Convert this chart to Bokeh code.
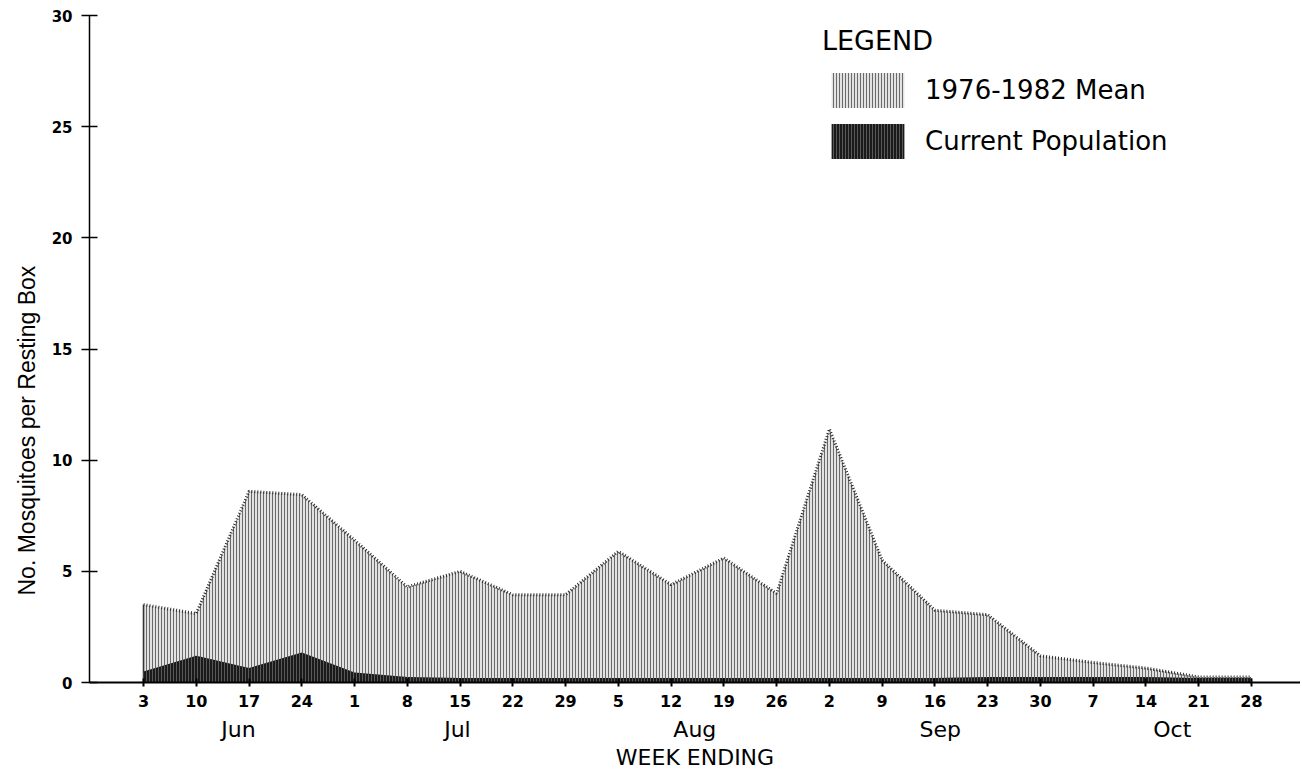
from bokeh.plotting import figure
from bokeh.models import (Range1d, FixedTicker, LinearAxis, Legend, LegendItem, Title,
                          ColumnDataSource)
from bokeh.embed import file_html
from bokeh.resources import INLINE

# ---------------- data ----------------
week_labels = ["3", "10", "17", "24", "1", "8", "15", "22", "29", "5", "12",
               "19", "26", "2", "9", "16", "23", "30", "7", "14", "21", "28"]
mean_1976_1982 = [3.5, 3.1, 8.6, 8.45, 6.4, 4.3, 5.0, 3.95, 3.95, 5.9, 4.4,
                  5.6, 4.0, 11.4, 5.5, 3.25, 3.05, 1.2, 0.9, 0.65, 0.25, 0.25]
current_population = [0.5, 1.2, 0.65, 1.35, 0.45, 0.25, 0.2, 0.2, 0.2, 0.2, 0.2,
                      0.2, 0.2, 0.2, 0.2, 0.2, 0.25, 0.25, 0.25, 0.25, 0.2, 0.2]
month_labels = ["Jun", "Jul", "Aug", "Sep", "Oct"]
month_pos = [1.8, 5.95, 10.45, 15.1, 19.5]
y_ticks = [0, 5, 10, 15, 20, 25, 30]

week_idx = list(range(len(week_labels)))
src = ColumnDataSource(dict(x=week_idx, mean=mean_1976_1982, cur=current_population,
                            zero=[0] * len(week_idx)))

TICK_FONT = "DejaVu Sans"
TEXT_FONT = "DejaVu Sans"

p = figure(frame_width=1211, frame_height=667, output_backend="svg",
           toolbar_location=None, x_range=Range1d(-1.024, 21.93),
           y_range=Range1d(0, 30), x_axis_type=None, y_axis_type=None,
           min_border_left=89, min_border_right=0, min_border_top=15,
           min_border_bottom=0)
p.title.visible = False
p.grid.visible = False
p.outline_line_color = None
p.background_fill_color = "white"

# mean area (stippled light grey)
mean_r = p.varea(x="x", y1="zero", y2="mean", source=src, fill_color="#e2e2e2",
                 hatch_pattern="vertical_line", hatch_color="#6a6a6a",
                 hatch_scale=3, hatch_weight=1)
p.line(x="x", y="mean", source=src, line_color="#2a2a2a", line_width=3,
       line_dash="1 2")
p.segment(x0=week_idx[0], y0=0, x1=week_idx[0], y1=mean_1976_1982[0],
          line_color="#333333", line_width=1.6)

# current population (dark)
cur_r = p.varea(x="x", y1="zero", y2="cur", source=src, fill_color="#1a1a1a",
                hatch_pattern="vertical_line", hatch_color="#6a6a6a",
                hatch_scale=3, hatch_weight=0.8)

# ---------------- axes ----------------
yax = LinearAxis(ticker=FixedTicker(ticks=y_ticks))
yax.axis_line_width = 1.5
yax.major_tick_in = 8
yax.major_tick_out = 8
yax.major_tick_line_width = 1.5
yax.minor_tick_line_color = None
yax.major_label_standoff = 9
yax.major_label_text_font = TICK_FONT
yax.major_label_text_font_style = "bold"
yax.major_label_text_font_size = "15px"
yax.major_label_text_color = "black"
p.add_layout(yax, "left")

ylab = Title(text="No. Mosquitoes per Resting Box", align="left", offset=87,
             vertical_align="top",
             text_font="Liberation Sans Narrow, Liberation Sans",
             text_font_size="23px", text_font_style="normal", standoff=14,
             text_color="black")
p.add_layout(ylab, "left")

xax = LinearAxis(ticker=FixedTicker(ticks=week_idx))
xax.major_label_overrides = {i: lab for i, lab in zip(week_idx, week_labels)}
xax.axis_line_width = 2
xax.major_tick_in = 4
xax.major_tick_out = 4
xax.major_tick_line_width = 2
xax.minor_tick_line_color = None
xax.major_label_standoff = 8
xax.major_label_text_font = TICK_FONT
xax.major_label_text_font_style = "bold"
xax.major_label_text_font_size = "16px"
xax.major_label_text_color = "black"
p.add_layout(xax, "below")

max_ = LinearAxis(ticker=FixedTicker(ticks=month_pos))
max_.major_label_overrides = {m: lab for m, lab in zip(month_pos, month_labels)}
max_.axis_line_color = None
max_.major_tick_line_color = None
max_.minor_tick_line_color = None
max_.major_tick_out = 0
max_.major_tick_in = 0
max_.major_label_standoff = 7
max_.major_label_text_font = TEXT_FONT
max_.major_label_text_font_size = "22px"
max_.major_label_text_color = "black"
max_.axis_label = "WEEK ENDING"
max_.axis_label_standoff = 0
max_.axis_label_text_font = TEXT_FONT
max_.axis_label_text_font_style = "normal"
max_.axis_label_text_font_size = "22px"
max_.axis_label_text_color = "black"
p.add_layout(max_, "below")

# ---------------- legend ----------------
legend = Legend(items=[LegendItem(label="1976-1982 Mean", renderers=[mean_r]),
                       LegendItem(label="Current Population", renderers=[cur_r])],
                title="LEGEND", location=(733, 519), glyph_width=91, glyph_height=44,
                label_standoff=12, spacing=7, padding=0, margin=0,
                border_line_alpha=0, background_fill_alpha=0,
                title_text_font=TEXT_FONT, title_text_font_size="27px",
                title_text_font_style="normal", title_standoff=12,
                title_text_color="black",
                label_text_font=TEXT_FONT, label_text_font_size="26px",
                label_text_color="black", label_height=44)
p.add_layout(legend)

open("out.html", "w").write(file_html(p, INLINE))
